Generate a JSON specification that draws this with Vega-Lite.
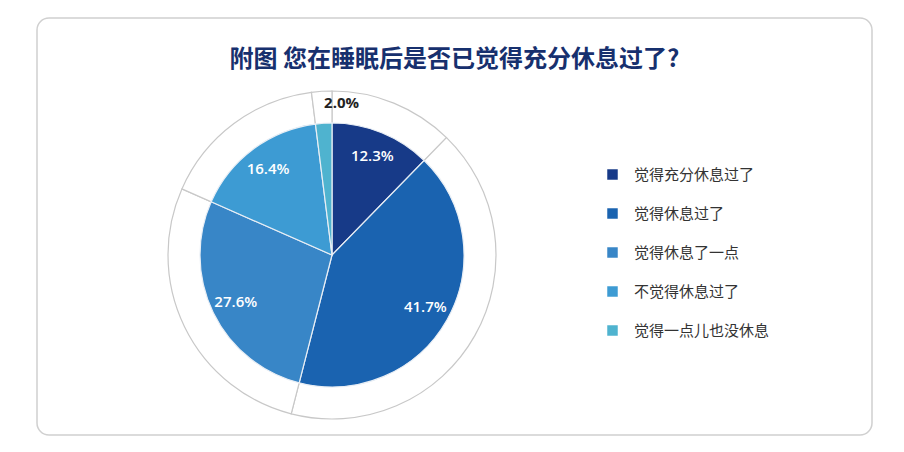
{
  "$schema": "https://vega.github.io/schema/vega-lite/v6.json",
  "width": 835,
  "height": 417,
  "autosize": "none",
  "padding": {"left": 37, "top": 18, "right": 32, "bottom": 17},
  "background": "white",
  "view": {"stroke": "#d0d0d0", "strokeWidth": 1.5, "cornerRadius": 12},
  "title": {
    "text": "附图 您在睡眠后是否已觉得充分休息过了?",
    "font": "Noto Sans CJK SC",
    "fontSize": 24,
    "fontWeight": "bold",
    "color": "#17306e",
    "anchor": "middle",
    "baseline": "top",
    "offset": -54
  },
  "config": {
    "font": "Noto Sans CJK SC"
  },
  "data": {
    "values": [
      {"answer": "觉得充分休息过了", "share": 0.123, "order": 1},
      {"answer": "觉得休息过了", "share": 0.417, "order": 2},
      {"answer": "觉得休息了一点", "share": 0.276, "order": 3},
      {"answer": "不觉得休息过了", "share": 0.164, "order": 4},
      {"answer": "觉得一点儿也没休息", "share": 0.02, "order": 5}
    ]
  },
  "encoding": {
    "theta": {"field": "share", "type": "quantitative", "stack": true},
    "order": {"field": "order", "type": "quantitative"}
  },
  "layer": [
    {
      "mark": {"type": "arc", "x": 295, "y": 237, "radius": 164, "fill": "white", "stroke": "#c8c8c8", "strokeWidth": 1.2}
    },
    {
      "mark": {"type": "arc", "x": 295, "y": 237, "radius": 132, "stroke": "#e8eef5", "strokeWidth": 1.2},
      "encoding": {
        "color": {
          "field": "answer",
          "type": "nominal",
          "sort": ["觉得充分休息过了", "觉得休息过了", "觉得休息了一点", "不觉得休息过了", "觉得一点儿也没休息"],
          "scale": {
            "domain": ["觉得充分休息过了", "觉得休息过了", "觉得休息了一点", "不觉得休息过了", "觉得一点儿也没休息"],
            "range": ["#173a88", "#1a63b0", "#3886c7", "#3d9bd3", "#4fb3cf"]
          },
          "legend": {
            "title": null,
            "orient": "none",
            "legendX": 568,
            "legendY": 149,
            "symbolType": "square",
            "symbolSize": 110,
            "symbolStrokeWidth": 0,
            "labelFontSize": 15,
            "labelColor": "#333333",
            "labelFont": "Noto Sans CJK SC",
            "labelOffset": 14,
            "rowPadding": 23
          }
        }
      }
    },
    {
      "transform": [{"filter": "datum.share >= 0.05"}],
      "mark": {"type": "text", "x": 295, "y": 237, "radius": 107, "fontSize": 15, "fontWeight": 600, "fill": "white", "font": "Open Sans"},
      "encoding": {
        "text": {"field": "share", "type": "quantitative", "format": ".1%"}
      }
    },
    {
      "transform": [{"filter": "datum.share < 0.05"}],
      "mark": {"type": "text", "x": 295, "y": 237, "radius": 152, "fontSize": 15, "fontWeight": 700, "fill": "#222222", "font": "Open Sans"},
      "encoding": {
        "text": {"field": "share", "type": "quantitative", "format": ".1%"}
      }
    }
  ]
}
